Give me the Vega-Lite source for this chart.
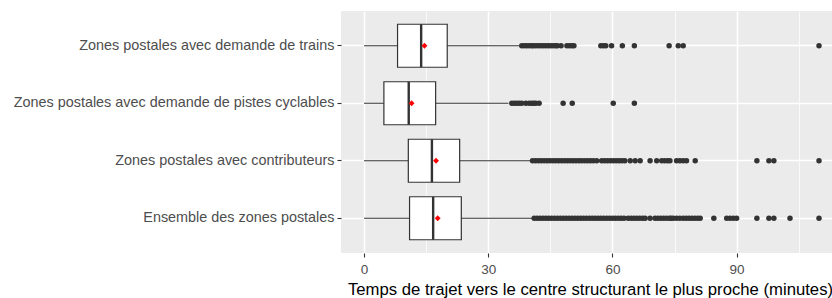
{
  "$schema": "https://vega.github.io/schema/vega-lite/v6.json",
  "width": 491,
  "height": 242,
  "autosize": {"type": "none"},
  "padding": {"left": 341, "top": 11, "right": 0, "bottom": 45},
  "background": "white",
  "config": {
    "font": "Liberation Sans",
    "view": {"fill": "#EBEBEB", "stroke": null}
  },
  "datasets": {
    "stats": [
      {"cat": "Zones postales avec demande de trains", "lo": 0, "q1": 8.1, "med": 13.8, "q3": 20.1, "hi": 37.5, "mean": 14.6},
      {"cat": "Zones postales avec demande de pistes cyclables", "lo": 0, "q1": 4.8, "med": 10.8, "q3": 17.3, "hi": 34.9, "mean": 11.5},
      {"cat": "Zones postales avec contributeurs", "lo": 0, "q1": 10.7, "med": 16.4, "q3": 23.1, "hi": 40.7, "mean": 17.4},
      {"cat": "Ensemble des zones postales", "lo": 0, "q1": 11.0, "med": 16.7, "q3": 23.5, "hi": 41.1, "mean": 17.8}
    ],
    "outliers": [
      {"cat": "Zones postales avec demande de trains", "v": 38.1},
      {"cat": "Zones postales avec demande de trains", "v": 38.7},
      {"cat": "Zones postales avec demande de trains", "v": 39.3},
      {"cat": "Zones postales avec demande de trains", "v": 39.9},
      {"cat": "Zones postales avec demande de trains", "v": 40.5},
      {"cat": "Zones postales avec demande de trains", "v": 40.9},
      {"cat": "Zones postales avec demande de trains", "v": 41.5},
      {"cat": "Zones postales avec demande de trains", "v": 42.1},
      {"cat": "Zones postales avec demande de trains", "v": 42.7},
      {"cat": "Zones postales avec demande de trains", "v": 43.3},
      {"cat": "Zones postales avec demande de trains", "v": 43.9},
      {"cat": "Zones postales avec demande de trains", "v": 44.5},
      {"cat": "Zones postales avec demande de trains", "v": 45.1},
      {"cat": "Zones postales avec demande de trains", "v": 45.7},
      {"cat": "Zones postales avec demande de trains", "v": 46.3},
      {"cat": "Zones postales avec demande de trains", "v": 46.7},
      {"cat": "Zones postales avec demande de trains", "v": 47.6},
      {"cat": "Zones postales avec demande de trains", "v": 49.0},
      {"cat": "Zones postales avec demande de trains", "v": 49.6},
      {"cat": "Zones postales avec demande de trains", "v": 50.2},
      {"cat": "Zones postales avec demande de trains", "v": 50.7},
      {"cat": "Zones postales avec demande de trains", "v": 57.2},
      {"cat": "Zones postales avec demande de trains", "v": 57.8},
      {"cat": "Zones postales avec demande de trains", "v": 58.4},
      {"cat": "Zones postales avec demande de trains", "v": 59.8},
      {"cat": "Zones postales avec demande de trains", "v": 62.4},
      {"cat": "Zones postales avec demande de trains", "v": 65.3},
      {"cat": "Zones postales avec demande de trains", "v": 73.7},
      {"cat": "Zones postales avec demande de trains", "v": 75.9},
      {"cat": "Zones postales avec demande de trains", "v": 77.1},
      {"cat": "Zones postales avec demande de trains", "v": 109.9},
      {"cat": "Zones postales avec demande de pistes cyclables", "v": 35.7},
      {"cat": "Zones postales avec demande de pistes cyclables", "v": 36.3},
      {"cat": "Zones postales avec demande de pistes cyclables", "v": 36.9},
      {"cat": "Zones postales avec demande de pistes cyclables", "v": 37.5},
      {"cat": "Zones postales avec demande de pistes cyclables", "v": 38.1},
      {"cat": "Zones postales avec demande de pistes cyclables", "v": 39.1},
      {"cat": "Zones postales avec demande de pistes cyclables", "v": 39.9},
      {"cat": "Zones postales avec demande de pistes cyclables", "v": 40.5},
      {"cat": "Zones postales avec demande de pistes cyclables", "v": 41.0},
      {"cat": "Zones postales avec demande de pistes cyclables", "v": 41.5},
      {"cat": "Zones postales avec demande de pistes cyclables", "v": 42.3},
      {"cat": "Zones postales avec demande de pistes cyclables", "v": 48.1},
      {"cat": "Zones postales avec demande de pistes cyclables", "v": 50.3},
      {"cat": "Zones postales avec demande de pistes cyclables", "v": 60.2},
      {"cat": "Zones postales avec demande de pistes cyclables", "v": 65.3},
      {"cat": "Zones postales avec contributeurs", "v": 40.7},
      {"cat": "Zones postales avec contributeurs", "v": 41.4},
      {"cat": "Zones postales avec contributeurs", "v": 42.1},
      {"cat": "Zones postales avec contributeurs", "v": 42.8},
      {"cat": "Zones postales avec contributeurs", "v": 43.5},
      {"cat": "Zones postales avec contributeurs", "v": 44.2},
      {"cat": "Zones postales avec contributeurs", "v": 44.9},
      {"cat": "Zones postales avec contributeurs", "v": 45.6},
      {"cat": "Zones postales avec contributeurs", "v": 46.3},
      {"cat": "Zones postales avec contributeurs", "v": 47.0},
      {"cat": "Zones postales avec contributeurs", "v": 47.7},
      {"cat": "Zones postales avec contributeurs", "v": 48.4},
      {"cat": "Zones postales avec contributeurs", "v": 49.1},
      {"cat": "Zones postales avec contributeurs", "v": 49.8},
      {"cat": "Zones postales avec contributeurs", "v": 50.5},
      {"cat": "Zones postales avec contributeurs", "v": 51.2},
      {"cat": "Zones postales avec contributeurs", "v": 51.9},
      {"cat": "Zones postales avec contributeurs", "v": 52.6},
      {"cat": "Zones postales avec contributeurs", "v": 53.3},
      {"cat": "Zones postales avec contributeurs", "v": 54.0},
      {"cat": "Zones postales avec contributeurs", "v": 54.7},
      {"cat": "Zones postales avec contributeurs", "v": 55.4},
      {"cat": "Zones postales avec contributeurs", "v": 56.2},
      {"cat": "Zones postales avec contributeurs", "v": 57.4},
      {"cat": "Zones postales avec contributeurs", "v": 58.1},
      {"cat": "Zones postales avec contributeurs", "v": 58.8},
      {"cat": "Zones postales avec contributeurs", "v": 59.5},
      {"cat": "Zones postales avec contributeurs", "v": 60.2},
      {"cat": "Zones postales avec contributeurs", "v": 60.9},
      {"cat": "Zones postales avec contributeurs", "v": 61.6},
      {"cat": "Zones postales avec contributeurs", "v": 62.3},
      {"cat": "Zones postales avec contributeurs", "v": 63.0},
      {"cat": "Zones postales avec contributeurs", "v": 64.3},
      {"cat": "Zones postales avec contributeurs", "v": 65.5},
      {"cat": "Zones postales avec contributeurs", "v": 66.7},
      {"cat": "Zones postales avec contributeurs", "v": 69.1},
      {"cat": "Zones postales avec contributeurs", "v": 70.7},
      {"cat": "Zones postales avec contributeurs", "v": 71.9},
      {"cat": "Zones postales avec contributeurs", "v": 72.6},
      {"cat": "Zones postales avec contributeurs", "v": 73.3},
      {"cat": "Zones postales avec contributeurs", "v": 73.9},
      {"cat": "Zones postales avec contributeurs", "v": 75.5},
      {"cat": "Zones postales avec contributeurs", "v": 76.3},
      {"cat": "Zones postales avec contributeurs", "v": 77.1},
      {"cat": "Zones postales avec contributeurs", "v": 77.9},
      {"cat": "Zones postales avec contributeurs", "v": 80.0},
      {"cat": "Zones postales avec contributeurs", "v": 94.9},
      {"cat": "Zones postales avec contributeurs", "v": 97.8},
      {"cat": "Zones postales avec contributeurs", "v": 99.0},
      {"cat": "Zones postales avec contributeurs", "v": 109.9},
      {"cat": "Ensemble des zones postales", "v": 41.1},
      {"cat": "Ensemble des zones postales", "v": 41.8},
      {"cat": "Ensemble des zones postales", "v": 42.5},
      {"cat": "Ensemble des zones postales", "v": 43.2},
      {"cat": "Ensemble des zones postales", "v": 43.9},
      {"cat": "Ensemble des zones postales", "v": 44.6},
      {"cat": "Ensemble des zones postales", "v": 45.3},
      {"cat": "Ensemble des zones postales", "v": 46.0},
      {"cat": "Ensemble des zones postales", "v": 46.7},
      {"cat": "Ensemble des zones postales", "v": 47.4},
      {"cat": "Ensemble des zones postales", "v": 48.1},
      {"cat": "Ensemble des zones postales", "v": 48.8},
      {"cat": "Ensemble des zones postales", "v": 49.5},
      {"cat": "Ensemble des zones postales", "v": 50.2},
      {"cat": "Ensemble des zones postales", "v": 50.9},
      {"cat": "Ensemble des zones postales", "v": 51.6},
      {"cat": "Ensemble des zones postales", "v": 52.3},
      {"cat": "Ensemble des zones postales", "v": 53.0},
      {"cat": "Ensemble des zones postales", "v": 53.7},
      {"cat": "Ensemble des zones postales", "v": 54.4},
      {"cat": "Ensemble des zones postales", "v": 55.1},
      {"cat": "Ensemble des zones postales", "v": 55.8},
      {"cat": "Ensemble des zones postales", "v": 56.5},
      {"cat": "Ensemble des zones postales", "v": 57.2},
      {"cat": "Ensemble des zones postales", "v": 57.9},
      {"cat": "Ensemble des zones postales", "v": 58.6},
      {"cat": "Ensemble des zones postales", "v": 59.3},
      {"cat": "Ensemble des zones postales", "v": 60.0},
      {"cat": "Ensemble des zones postales", "v": 60.7},
      {"cat": "Ensemble des zones postales", "v": 61.4},
      {"cat": "Ensemble des zones postales", "v": 62.1},
      {"cat": "Ensemble des zones postales", "v": 62.8},
      {"cat": "Ensemble des zones postales", "v": 63.8},
      {"cat": "Ensemble des zones postales", "v": 64.5},
      {"cat": "Ensemble des zones postales", "v": 65.2},
      {"cat": "Ensemble des zones postales", "v": 65.9},
      {"cat": "Ensemble des zones postales", "v": 66.6},
      {"cat": "Ensemble des zones postales", "v": 67.3},
      {"cat": "Ensemble des zones postales", "v": 67.9},
      {"cat": "Ensemble des zones postales", "v": 69.1},
      {"cat": "Ensemble des zones postales", "v": 70.3},
      {"cat": "Ensemble des zones postales", "v": 71.0},
      {"cat": "Ensemble des zones postales", "v": 71.7},
      {"cat": "Ensemble des zones postales", "v": 72.4},
      {"cat": "Ensemble des zones postales", "v": 73.1},
      {"cat": "Ensemble des zones postales", "v": 73.8},
      {"cat": "Ensemble des zones postales", "v": 74.2},
      {"cat": "Ensemble des zones postales", "v": 74.7},
      {"cat": "Ensemble des zones postales", "v": 75.5},
      {"cat": "Ensemble des zones postales", "v": 76.3},
      {"cat": "Ensemble des zones postales", "v": 77.1},
      {"cat": "Ensemble des zones postales", "v": 77.8},
      {"cat": "Ensemble des zones postales", "v": 78.5},
      {"cat": "Ensemble des zones postales", "v": 79.2},
      {"cat": "Ensemble des zones postales", "v": 79.9},
      {"cat": "Ensemble des zones postales", "v": 80.6},
      {"cat": "Ensemble des zones postales", "v": 81.2},
      {"cat": "Ensemble des zones postales", "v": 84.5},
      {"cat": "Ensemble des zones postales", "v": 87.6},
      {"cat": "Ensemble des zones postales", "v": 88.4},
      {"cat": "Ensemble des zones postales", "v": 89.2},
      {"cat": "Ensemble des zones postales", "v": 90.0},
      {"cat": "Ensemble des zones postales", "v": 94.9},
      {"cat": "Ensemble des zones postales", "v": 97.8},
      {"cat": "Ensemble des zones postales", "v": 99.0},
      {"cat": "Ensemble des zones postales", "v": 102.9},
      {"cat": "Ensemble des zones postales", "v": 109.9}
    ]
  },
  "resolve": {"axis": {"x": "independent"}},
  "layer": [
    {
      "data": {"name": "stats"},
      "mark": {"type": "rule", "color": "#333333", "strokeWidth": 1.2},
      "encoding": {
        "y": {
          "field": "cat", "type": "nominal",
          "sort": ["Zones postales avec demande de trains", "Zones postales avec demande de pistes cyclables", "Zones postales avec contributeurs", "Ensemble des zones postales"],
          "scale": {"paddingInner": 0.252, "paddingOuter": 0.2305},
          "axis": {
            "title": null, "domain": false, "grid": true, "gridColor": "white", "gridWidth": 1.5,
            "bandPosition": 0.5,
            "tickColor": "#333333", "tickSize": 4, "tickWidth": 1.1,
            "labelColor": "#4D4D4D", "labelFontSize": 14.4, "labelPadding": 3, "labelLimit": 400
          }
        },
        "x": {
          "field": "lo", "type": "quantitative",
          "scale": {"domain": [-5.56, 113.04], "nice": false, "zero": false},
          "axis": {
            "orient": "bottom", "values": [0, 30, 60, 90], "domain": false,
            "grid": true, "gridColor": "white", "gridWidth": 1.5,
            "tickColor": "#333333", "tickSize": 4, "tickWidth": 1.1,
            "labelColor": "#4D4D4D", "labelFontSize": 13.5, "labelPadding": 5,
            "title": "Temps de trajet vers le centre structurant le plus proche (minutes)",
            "titleFontSize": 16.7, "titleFontWeight": "normal", "titleColor": "black",
            "titleX": 249, "titleY": 41, "titleBaseline": "alphabetic", "titleAlign": "center"
          }
        },
        "x2": {"field": "hi"}
      }
    },
    {
      "data": {"name": "stats"},
      "mark": {"type": "bar", "fill": "white", "stroke": "#333333", "strokeWidth": 1.2},
      "encoding": {
        "y": {
          "field": "cat", "type": "nominal",
          "sort": ["Zones postales avec demande de trains", "Zones postales avec demande de pistes cyclables", "Zones postales avec contributeurs", "Ensemble des zones postales"]
        },
        "x": {
          "field": "q1", "type": "quantitative",
          "scale": {"domain": [-5.56, 113.04], "nice": false, "zero": false},
          "axis": {
            "orient": "bottom", "values": [15, 45, 75, 105], "domain": false,
            "grid": true, "gridColor": "white", "gridWidth": 0.75,
            "ticks": false, "labels": false, "title": null
          }
        },
        "x2": {"field": "q3"}
      }
    },
    {
      "data": {"name": "stats"},
      "mark": {"type": "tick", "orient": "vertical", "color": "#333333", "size": 43, "thickness": 2.4, "opacity": 1},
      "encoding": {
        "y": {
          "field": "cat", "type": "nominal",
          "sort": ["Zones postales avec demande de trains", "Zones postales avec demande de pistes cyclables", "Zones postales avec contributeurs", "Ensemble des zones postales"]
        },
        "x": {
          "field": "med", "type": "quantitative",
          "scale": {"domain": [-5.56, 113.04], "nice": false, "zero": false},
          "axis": null
        }
      }
    },
    {
      "data": {"name": "outliers"},
      "mark": {"type": "point", "shape": "circle", "filled": true, "color": "#333333", "size": 30, "opacity": 1},
      "encoding": {
        "y": {
          "field": "cat", "type": "nominal",
          "sort": ["Zones postales avec demande de trains", "Zones postales avec demande de pistes cyclables", "Zones postales avec contributeurs", "Ensemble des zones postales"]
        },
        "x": {
          "field": "v", "type": "quantitative",
          "scale": {"domain": [-5.56, 113.04], "nice": false, "zero": false},
          "axis": null
        }
      }
    },
    {
      "data": {"name": "stats"},
      "mark": {"type": "point", "shape": "diamond", "filled": true, "color": "#FF0000", "size": 34, "opacity": 1},
      "encoding": {
        "y": {
          "field": "cat", "type": "nominal",
          "sort": ["Zones postales avec demande de trains", "Zones postales avec demande de pistes cyclables", "Zones postales avec contributeurs", "Ensemble des zones postales"]
        },
        "x": {
          "field": "mean", "type": "quantitative",
          "scale": {"domain": [-5.56, 113.04], "nice": false, "zero": false},
          "axis": null
        }
      }
    }
  ]
}
